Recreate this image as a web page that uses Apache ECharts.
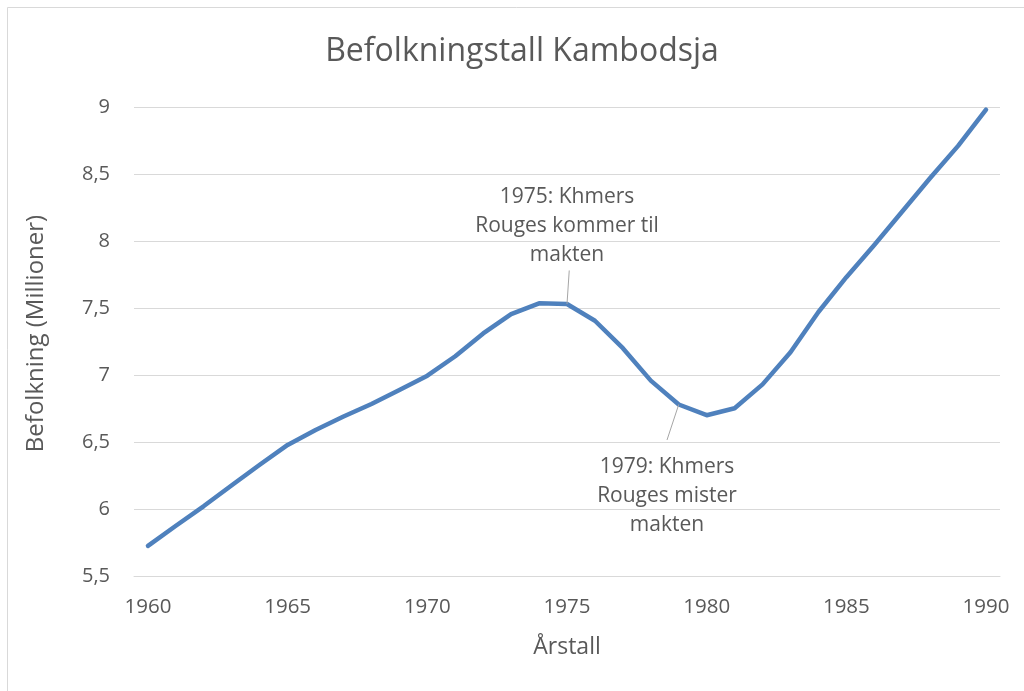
<!DOCTYPE html>
<html>
<head>
<meta charset="utf-8">
<script src="https://cdn.jsdelivr.net/npm/echarts@6/dist/echarts.min.js"></script>
<style>html,body{margin:0;padding:0;background:#fff}#c{width:1024px;height:691px}</style>
</head>
<body>
<div id="c"></div>
<script>
const years = ['1960','1961','1962','1963','1964','1965','1966','1967','1968','1969','1970','1971','1972','1973','1974','1975','1976','1977','1978','1979','1980','1981','1982','1983','1984','1985','1986','1987','1988','1989','1990'];
const population = [5.725, 5.875, 6.022, 6.177, 6.33, 6.478, 6.59, 6.69, 6.784, 6.888, 6.995, 7.14, 7.31, 7.455, 7.535, 7.53, 7.405, 7.2, 6.958, 6.78, 6.7, 6.752, 6.93, 7.17, 7.47, 7.73, 7.97, 8.22, 8.47, 8.71, 8.98];
const yTicks = { min: 5.5, max: 9, step: 0.5 };
const titleText = 'Befolkningstall Kambodsja';
const xName = 'Årstall';
const yName = 'Befolkning (Millioner)';
const notes = [
  { text: '1975: Khmers\nRouges kommer til\nmakten', at: [1975, 8.112], leaderFrom: [1975, 7.53], leaderTo: [1975.08, 7.78] },
  { text: '1979: Khmers\nRouges mister\nmakten', at: [1978.58, 6.097], leaderFrom: [1979, 6.78], leaderTo: [1978.58, 6.515] }
];

const FONT = '"Open Sans", sans-serif';
const TXT = '#595959';
const chart = echarts.init(document.getElementById('c'), null, { renderer: 'canvas' });
chart.setOption({
  animation: false,
  backgroundColor: '#ffffff',
  textStyle: { fontFamily: FONT },
  graphic: [
    { type: 'rect', shape: { x: 7.5, y: 7.5, width: 1100, height: 1000 }, style: { fill: 'none', stroke: '#d9d9d9', lineWidth: 1 }, silent: true, z: -10 },
    { type: 'text', x: 522, y: 52, style: { text: titleText, fontFamily: FONT, fontSize: 32, fill: TXT, align: 'center', verticalAlign: 'middle' } }
  ],
  grid: { left: 134, right: 24, top: 107, bottom: 115, containLabel: false },
  xAxis: [{
    type: 'category',
    data: years,
    boundaryGap: true,
    name: xName,
    nameLocation: 'middle',
    nameGap: 60,
    nameTextStyle: { color: TXT, fontSize: 23, fontFamily: FONT },
    axisLine: { lineStyle: { color: '#d9d9d9', width: 1 } },
    axisTick: { show: false },
    axisLabel: { interval: 4, color: TXT, fontSize: 20.5, margin: 21, fontFamily: FONT },
    splitLine: { show: false }
  }, {
    type: 'value',
    min: 1959.5,
    max: 1990.5,
    show: false,
    splitLine: { show: false }
  }],
  yAxis: {
    type: 'value',
    min: yTicks.min,
    max: yTicks.max,
    interval: yTicks.step,
    name: yName,
    nameLocation: 'middle',
    nameGap: 86,
    nameRotate: 90,
    nameTextStyle: { color: TXT, fontSize: 24, fontFamily: FONT, padding: [0, 0, 0, 16] },
    axisLine: { show: false },
    axisTick: { show: false },
    axisLabel: { color: TXT, fontSize: 20, margin: 24, fontFamily: FONT, formatter: v => String(v).replace('.', ',') },
    splitLine: { lineStyle: { color: '#d9d9d9', width: 1 } }
  },
  series: [{
    type: 'line',
    data: population,
    symbol: 'none',
    lineStyle: { color: '#4f81bd', width: 4.5, cap: 'round', join: 'round' },
    z: 3
  }, {
    type: 'line',
    xAxisIndex: 1,
    data: [],
    symbol: 'none',
    silent: true,
    markLine: {
      silent: true,
      symbol: 'none',
      label: { show: false },
      lineStyle: { color: '#a6a6a6', width: 1, type: 'solid' },
      data: notes.map(n => [{ coord: n.leaderFrom }, { coord: n.leaderTo }])
    },
    markPoint: {
      silent: true,
      symbol: 'circle',
      symbolSize: 0,
      data: notes.map(n => ({
        coord: n.at,
        label: { show: true, position: 'inside', formatter: n.text, color: TXT, fontSize: 21, lineHeight: 29, fontFamily: FONT, align: 'center', verticalAlign: 'middle' }
      }))
    }
  }]
});
</script>
</body>
</html>
